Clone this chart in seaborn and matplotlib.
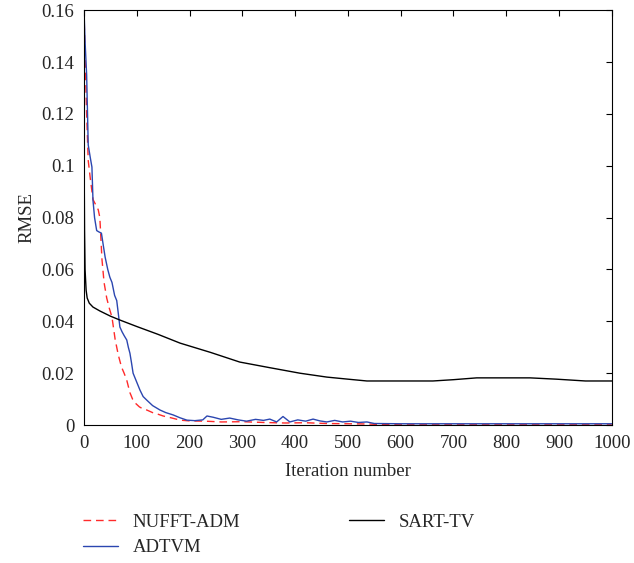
import matplotlib
matplotlib.use("Agg")
import matplotlib.pyplot as plt
import matplotlib.ticker as mticker
import seaborn as sns
import pandas as pd

# NUFFT-ADM (red dashed)
adm_iter = [0, 2, 5, 8, 12, 17, 22, 27, 30, 34, 38, 43, 48, 53, 59, 65, 71, 76, 81, 87,
            92, 97, 105, 112, 119, 130, 140, 150, 165, 182, 200, 230, 260, 300, 340, 380,
            420, 460, 500, 540, 560, 600, 700, 800, 900, 1000]
adm_rmse = [0.160, 0.142, 0.120, 0.102, 0.095, 0.087, 0.085, 0.083, 0.080, 0.064,
            0.055, 0.049, 0.045, 0.0416, 0.033, 0.027, 0.0224, 0.020, 0.0173, 0.0125,
            0.010, 0.0085, 0.007, 0.0062, 0.0058, 0.0048, 0.0042, 0.0035, 0.0028, 0.0019,
            0.0016, 0.0015, 0.0012, 0.0013, 0.0010, 0.0008, 0.0009, 0.0006, 0.0005, 0.0004,
            0.0002, 0.0001, 0.0001, 0.0001, 0.0001, 0.0001]

# ADTVM (blue)
tvm_iter = [0, 2, 5, 8, 12, 15, 17, 20, 24, 28, 33, 36, 40, 45, 49, 53, 58, 62, 65, 68,
            72, 76, 81, 84, 87, 90, 93, 100, 106, 112, 119, 130, 144, 155, 169, 182, 195,
            210, 225, 233, 245, 260, 276, 292, 308, 325, 340, 352, 365, 377, 390, 405,
            420, 434, 447, 460, 475, 490, 505, 520, 536, 550, 600, 700, 800, 900, 1000]
tvm_rmse = [0.160, 0.148, 0.135, 0.108, 0.103, 0.0995, 0.0867, 0.080, 0.075, 0.0745,
            0.074, 0.070, 0.0648, 0.060, 0.057, 0.055, 0.050, 0.048, 0.043, 0.0378,
            0.036, 0.0345, 0.0328, 0.030, 0.0277, 0.024, 0.020, 0.0165, 0.0135, 0.011,
            0.0096, 0.0075, 0.0058, 0.0048, 0.0039, 0.0028, 0.0019, 0.0017, 0.0020, 0.0035,
            0.0030, 0.0022, 0.0027, 0.0020, 0.0015, 0.0022, 0.0018, 0.0023, 0.0012, 0.0033,
            0.0012, 0.0020, 0.0015, 0.0023, 0.0016, 0.0012, 0.0018, 0.0012, 0.0015, 0.0010,
            0.0012, 0.0006, 0.0005, 0.0005, 0.0005, 0.0005, 0.0005]

# SART-TV (black)
sart_iter = [0, 1, 2, 4, 6, 10, 17, 30, 50, 68, 100, 140, 182, 240, 295, 350, 409, 460,
             500, 536, 600, 661, 700, 744, 800, 845, 895, 950, 1000]
sart_rmse = [0.110, 0.075, 0.060, 0.052, 0.049, 0.047, 0.0455, 0.044, 0.042, 0.0405,
             0.038, 0.035, 0.0316, 0.028, 0.0243, 0.0222, 0.020, 0.0185, 0.0177, 0.0170,
             0.0170, 0.0170, 0.0175, 0.0182, 0.0182, 0.0182, 0.0177, 0.0170, 0.0170]

methods = ['NUFFT-ADM', 'ADTVM', 'SART-TV']
colors = {'NUFFT-ADM': '#ff2a2a', 'ADTVM': '#2b46b0', 'SART-TV': '#000000'}

df = pd.concat([
    pd.DataFrame({'iter': adm_iter, 'rmse': adm_rmse, 'method': 'NUFFT-ADM'}),
    pd.DataFrame({'iter': tvm_iter, 'rmse': tvm_rmse, 'method': 'ADTVM'}),
    pd.DataFrame({'iter': sart_iter, 'rmse': sart_rmse, 'method': 'SART-TV'}),
])

sns.set_style('white')
plt.rcParams['font.family'] = ['Liberation Serif', 'DejaVu Serif']

fig = plt.figure(figsize=(6.34, 5.63), dpi=100)
ax = fig.add_axes([0.1325, 0.245, 0.8325, 0.737])

sns.lineplot(data=df, x='iter', y='rmse', hue='method', style='method',
             hue_order=methods, style_order=methods, palette=colors,
             dashes={'NUFFT-ADM': (5.5, 3.5), 'ADTVM': '', 'SART-TV': ''},
             linewidth=1.0, estimator=None, sort=False, ax=ax)

ax.set_xlim(0, 1000)
ax.set_ylim(0, 0.16)
ax.set_xticks(range(0, 1001, 100))
ax.set_yticks([i * 0.02 for i in range(9)])
ax.yaxis.set_major_formatter(mticker.FuncFormatter(lambda v, p: '%g' % round(v, 2)))
ax.tick_params(axis='both', which='both', direction='in', top=True, right=True,
               length=4, width=0.8, labelsize=13.5, pad=7, color='black')
for s in ax.spines.values():
    s.set_color('black')
    s.set_linewidth(0.8)

ax.set_xlabel('Iteration number', fontsize=13.5, labelpad=8)
ax.set_ylabel('RMSE', fontsize=13.5, labelpad=4)

handles, labels = ax.get_legend_handles_labels()
ax.get_legend().remove()
fig.legend(handles, labels, ncol=2, frameon=False, fontsize=13.5,
           loc='upper left', bbox_to_anchor=(0.104, 0.118),
           handlelength=1.9, columnspacing=5.8, labelspacing=0.45, handletextpad=0.75)

fig.savefig('out.png', dpi=100)
